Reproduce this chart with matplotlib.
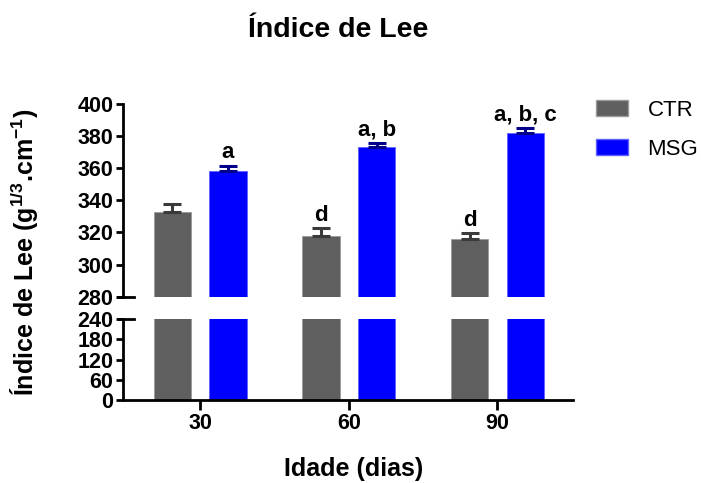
import matplotlib
matplotlib.use("Agg")
import matplotlib.pyplot as plt
from matplotlib.patches import Patch
import numpy as np

plt.rcParams['font.family'] = ['Liberation Sans', 'DejaVu Sans']
plt.rcParams['mathtext.fontset'] = 'custom'
plt.rcParams['mathtext.rm'] = 'Liberation Sans:bold'
plt.rcParams['mathtext.bf'] = 'Liberation Sans:bold'
plt.rcParams['mathtext.default'] = 'bf'

# Lee index per age group
ages = ['30', '60', '90']
ctr_mean = [333, 318, 316]
ctr_err = [5, 4.5, 3.5]
msg_mean = [358, 373, 382]
msg_err = [3.5, 3, 3]
ctr_marks = ['', 'd', 'd']
msg_marks = ['a', 'a, b', 'a, b, c']

gray = '#5f5f5f'
blue = '#0000ff'
width = 0.25
offset = 0.187
x = np.arange(len(ages))

fig = plt.figure(figsize=(7.01, 4.83), dpi=100)
ax_top = fig.add_axes([0.1755, 0.3857, 0.642, 0.399])
ax_bot = fig.add_axes([0.1755, 0.1718, 0.642, 0.1677])

for ax in (ax_top, ax_bot):
    ax.bar(x - offset, ctr_mean, width, color=gray, edgecolor='#9a9a9a', linewidth=0.6)
    ax.bar(x + offset, msg_mean, width, color=blue, edgecolor='#6060ff', linewidth=0.6)
    ax.set_xlim(-0.52, 2.51)
    for s in ('top', 'right'):
        ax.spines[s].set_visible(False)
    ax.spines['left'].set_linewidth(2)
    ax.spines['bottom'].set_linewidth(2)
    ax.tick_params(direction='out', length=5, width=2, labelsize=15.5, pad=2)

# error bars, upward only
ax_top.errorbar(x - offset, ctr_mean, yerr=[np.zeros(3), ctr_err], fmt='none',
                ecolor='#3a3a3a', elinewidth=2.2, capsize=6.5, capthick=2.2)
ax_top.errorbar(x + offset, msg_mean, yerr=[np.zeros(3), msg_err], fmt='none',
                ecolor='#00008a', elinewidth=2.2, capsize=6.5, capthick=2.2)

for i in range(len(ages)):
    if ctr_marks[i]:
        ax_top.text(x[i] - offset, ctr_mean[i] + ctr_err[i] + 1.5, ctr_marks[i],
                    ha='center', va='bottom', fontsize=16, fontweight='bold')
    ax_top.text(x[i] + offset, msg_mean[i] + msg_err[i] + 1.5, msg_marks[i],
                ha='center', va='bottom', fontsize=16, fontweight='bold')

ax_top.set_ylim(280, 400)
ax_top.set_yticks(np.arange(280, 401, 20))
ax_top.set_yticklabels([str(v) for v in range(280, 401, 20)], fontweight='bold')
ax_top.spines['bottom'].set_visible(False)
ax_top.set_xticks([])

ax_bot.set_ylim(0, 240)
ax_bot.set_yticks(np.arange(0, 241, 60))
ax_bot.set_yticklabels([str(v) for v in range(0, 241, 60)], fontweight='bold')
ax_bot.set_xticks(x)
ax_bot.set_xticklabels(ages, fontweight='bold')
ax_bot.tick_params(axis='x', length=7)

# break marks on the y axis
ax_top.plot([-0.012, 0.025], [0, 0], transform=ax_top.transAxes, color='black',
            lw=2, clip_on=False)
ax_bot.plot([-0.008, 0.025], [1, 1], transform=ax_bot.transAxes, color='black',
            lw=2, clip_on=False)

fig.text(0.482, 0.938, 'Índice de Lee', ha='center', va='center', fontsize=20.5,
         fontweight='bold')
fig.text(0.505, 0.029, 'Idade (dias)', ha='center', va='center', fontsize=18,
         fontweight='bold')
fig.text(0.036, 0.478, r'Índice de Lee (g$^{1/3}$.cm$^{-1}$)', ha='center',
         va='center', rotation=90, fontsize=18, fontweight='bold')

# legend
handles = [Patch(facecolor=gray, edgecolor='#9a9a9a'),
           Patch(facecolor=blue, edgecolor='#6060ff')]
fig.legend(handles, ['CTR', 'MSG'], loc='upper left', bbox_to_anchor=(0.850, 0.793),
           frameon=False, fontsize=16, handlelength=1.45, handleheight=0.7,
           labelspacing=0.8, handletextpad=0.87, borderpad=0, borderaxespad=0)

fig.savefig('out.png', dpi=100)
